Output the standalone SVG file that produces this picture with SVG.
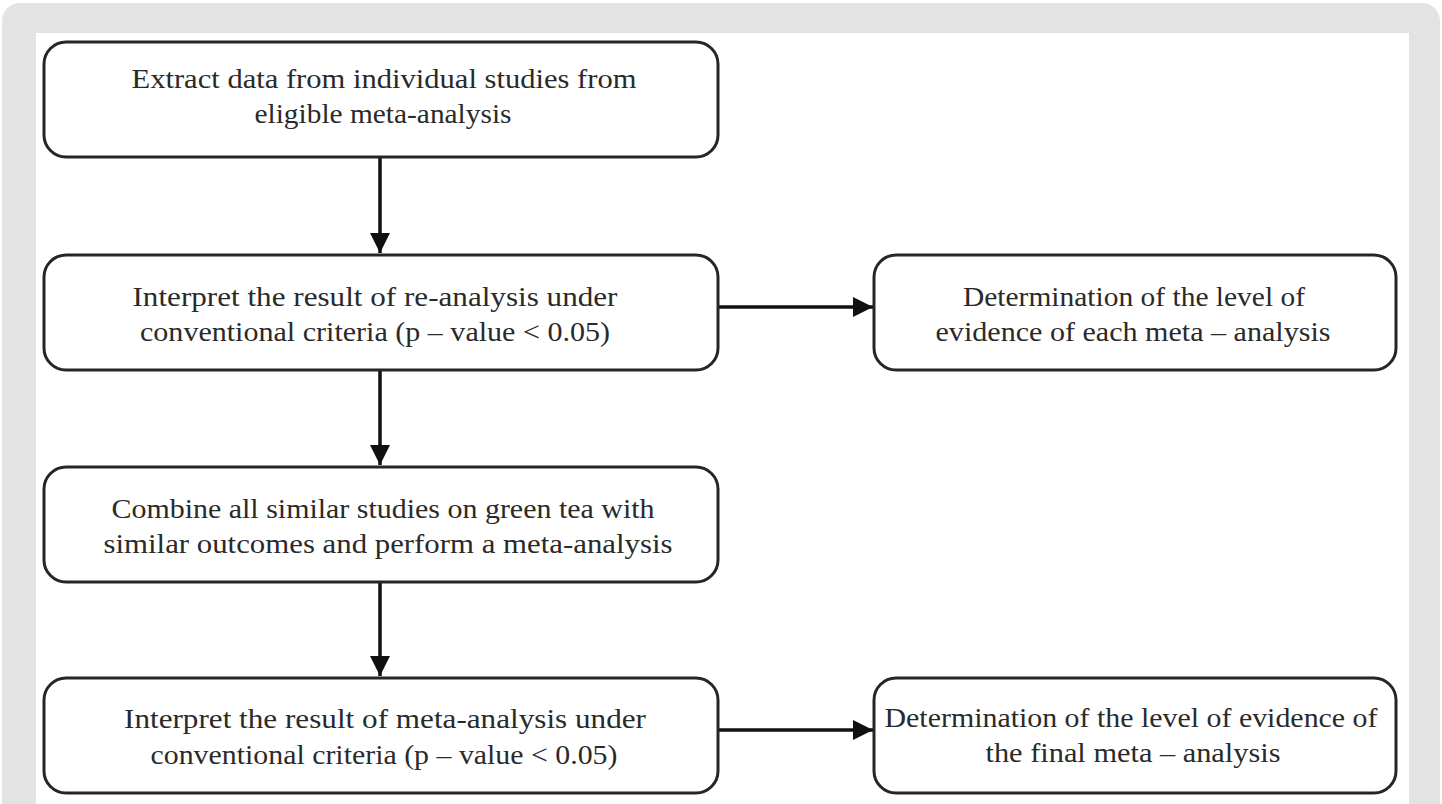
<svg xmlns="http://www.w3.org/2000/svg" width="1442" height="804" viewBox="0 0 1442 804">
<style>
.box{fill:#ffffff;stroke:#262626;stroke-width:3}
.t{font-family:"Liberation Serif","DejaVu Serif",serif;font-size:27px;fill:#2a2a2a;text-anchor:middle}
.c{stroke:#111;stroke-width:3.5;fill:none}
</style>
<defs>
<marker id="ah" viewBox="0 0 10 10" refX="10" refY="5" markerWidth="5.8" markerHeight="5.8" markerUnits="strokeWidth" orient="auto">
<path d="M0,0 L10,5 L0,10 z" fill="#111"/>
</marker>
</defs>
<rect x="2" y="3" width="1438" height="830" rx="18" fill="#e3e3e3"/>
<rect x="36" y="33" width="1373" height="800" fill="#ffffff"/>
<g id="connectors">
<line class="c" x1="380" y1="158" x2="380" y2="253" marker-end="url(#ah)"/>
<line class="c" x1="380" y1="371" x2="380" y2="465" marker-end="url(#ah)"/>
<line class="c" x1="380" y1="583" x2="380" y2="676" marker-end="url(#ah)"/>
<line class="c" x1="719" y1="307" x2="873" y2="307" marker-end="url(#ah)"/>
<line class="c" x1="719" y1="730" x2="873" y2="730" marker-end="url(#ah)"/>
</g>
<g id="n1">
<rect class="box" x="44" y="42" width="674" height="115" rx="22"/>
<text class="t" x="384" y="88" textLength="505" lengthAdjust="spacingAndGlyphs">Extract data from individual studies from</text>
<text class="t" x="383" y="123" textLength="257" lengthAdjust="spacingAndGlyphs">eligible meta-analysis</text>
</g>
<g id="n2">
<rect class="box" x="44" y="255" width="674" height="115" rx="22"/>
<text class="t" x="375" y="306" textLength="485" lengthAdjust="spacingAndGlyphs">Interpret the result of re-analysis under</text>
<text class="t" x="375" y="341" textLength="470" lengthAdjust="spacingAndGlyphs">conventional  criteria (p – value &lt; 0.05)</text>
</g>
<g id="n3">
<rect class="box" x="44" y="467" width="674" height="115" rx="22"/>
<text class="t" x="383" y="518" textLength="543" lengthAdjust="spacingAndGlyphs">Combine all similar studies on green tea with</text>
<text class="t" x="388" y="553" textLength="569" lengthAdjust="spacingAndGlyphs">similar outcomes and perform a meta-analysis</text>
</g>
<g id="n4">
<rect class="box" x="44" y="678" width="674" height="115" rx="22"/>
<text class="t" x="385" y="728" textLength="522" lengthAdjust="spacingAndGlyphs">Interpret the result of meta-analysis under</text>
<text class="t" x="384" y="764" textLength="467" lengthAdjust="spacingAndGlyphs">conventional criteria (p – value &lt; 0.05)</text>
</g>
<g id="n5">
<rect class="box" x="874" y="255" width="522" height="115" rx="22"/>
<text class="t" x="1134" y="306" textLength="342" lengthAdjust="spacingAndGlyphs">Determination of the level of</text>
<text class="t" x="1133" y="341" textLength="395" lengthAdjust="spacingAndGlyphs">evidence of each meta – analysis</text>
</g>
<g id="n6">
<rect class="box" x="874" y="678" width="522" height="115" rx="22"/>
<text class="t" x="1131" y="727" textLength="493" lengthAdjust="spacingAndGlyphs">Determination of the level of evidence of</text>
<text class="t" x="1133" y="762" textLength="295" lengthAdjust="spacingAndGlyphs">the final meta – analysis</text>
</g>
</svg>
